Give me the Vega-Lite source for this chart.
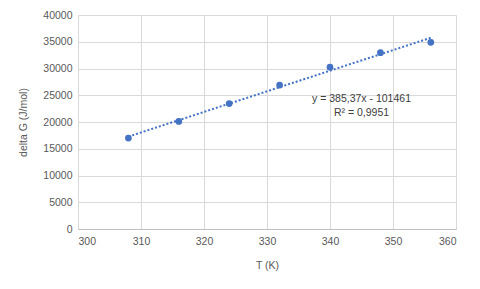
{
  "$schema": "https://vega.github.io/schema/vega-lite/v6.json",
  "autosize": "none",
  "width": 378,
  "height": 214,
  "padding": {"left": 78, "top": 15, "right": 24, "bottom": 60},
  "background": "white",
  "config": {
    "view": {"stroke": null},
    "font": "Liberation Sans",
    "axis": {
      "labelColor": "#595959",
      "titleColor": "#595959",
      "labelFontSize": 10.5,
      "titleFontSize": 10.5,
      "titleFontWeight": "normal",
      "gridColor": "#D9D9D9",
      "domainColor": "#BFBFBF",
      "ticks": false,
      "labelOverlap": false
    }
  },
  "datasets": {
    "pts": [
      {"T": 308, "G": 17000},
      {"T": 316, "G": 20100},
      {"T": 324, "G": 23450},
      {"T": 332, "G": 26900},
      {"T": 340, "G": 30250},
      {"T": 348, "G": 32950},
      {"T": 356, "G": 34900}
    ],
    "lbl": [
      {"T": 345, "G": 24350, "text": "y = 385,37x - 101461"},
      {"T": 345, "G": 21700, "text": "R² = 0,9951"}
    ]
  },
  "encoding": {
    "x": {"field": "T", "type": "quantitative", "scale": {"domain": [300, 360], "nice": false, "zero": false}, "axis": {"values": [300, 310, 320, 330, 340, 350, 360], "title": "T (K)", "labelPadding": 7, "titlePadding": 14, "domain": true, "grid": true}},
    "y": {"field": "G", "type": "quantitative", "scale": {"domain": [0, 40000], "nice": false}, "axis": {"values": [0, 5000, 10000, 15000, 20000, 25000, 30000, 35000, 40000], "title": "delta G (J/mol)", "format": "d", "labelPadding": 6, "titlePadding": 14, "domain": false, "grid": true}}
  },
  "layer": [
    {
      "data": {"name": "pts"},
      "transform": [{"regression": "G", "on": "T"}],
      "mark": {"type": "line", "color": "#4472C4", "strokeWidth": 2, "strokeDash": [2, 2]}
    },
    {
      "data": {"name": "pts"},
      "mark": {"type": "point", "filled": true, "opacity": 1, "color": "#4472C4", "size": 45}
    },
    {
      "data": {"name": "lbl"},
      "mark": {"type": "text", "color": "#404040", "fontSize": 10.5, "align": "center", "baseline": "middle"},
      "encoding": {
        "text": {"field": "text"}
      }
    }
  ]
}
